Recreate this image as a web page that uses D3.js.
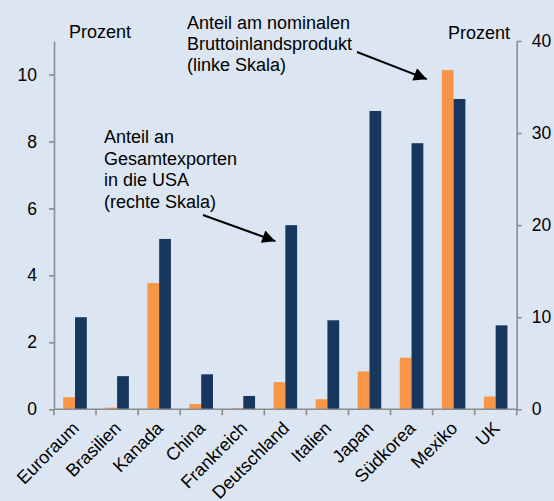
<!DOCTYPE html>
<html>
<head>
<meta charset="utf-8">
<script src="https://cdn.jsdelivr.net/npm/d3@7"></script>
<style>
  body { margin: 0; background: #dce6f2; }
  svg { display: block; }
  text { font-family: "Liberation Sans", Arial, sans-serif; fill: #000; }
</style>
</head>
<body>
<div id="chart"></div>
<script>
// Länder
const countries = ["Euroraum", "Brasilien", "Kanada", "China", "Frankreich", "Deutschland",
  "Italien", "Japan", "Südkorea", "Mexiko", "UK"];
// Anteil am nominalen BIP (linke Skala)
const gdpShare = [0.36, 0.05, 3.77, 0.16, 0.03, 0.81, 0.30, 1.13, 1.54, 10.13, 0.38];
// Anteil an Gesamtexporten in die USA (rechte Skala)
const exportShare = [10.0, 3.6, 18.5, 3.8, 1.45, 20.0, 9.67, 32.4, 28.9, 33.7, 9.12];
const leftTicks = [0, 2, 4, 6, 8, 10];
const rightTicks = [0, 10, 20, 30, 40];

const width = 554, height = 501;
const margin = { top: 41, right: 37.3, bottom: 91.7, left: 54 };
const innerW = width - margin.left - margin.right;
const innerH = height - margin.top - margin.bottom;

const orange = "#f79646", navy = "#17375e", axisColor = "#8c8c8c";
const fontSize = 18;

const svg = d3.select("#chart").append("svg")
  .attr("width", width).attr("height", height);

svg.append("rect").attr("width", width).attr("height", height).attr("fill", "#dce6f2");

const g = svg.append("g").attr("transform", `translate(${margin.left},${margin.top})`);

const x = d3.scaleBand().domain(countries).range([0, innerW]).paddingInner(0).paddingOuter(0);
const x1 = d3.scaleBand().domain(["gdp", "exp"]).range([x.bandwidth() * 0.22, x.bandwidth() * 0.78]);
const yL = d3.scaleLinear().domain([0, 11]).range([innerH, 0]);
const yR = d3.scaleLinear().domain([0, 40]).range([innerH, 0]);

// Balken
const groups = g.selectAll(".grp").data(countries).enter().append("g")
  .attr("transform", d => `translate(${x(d)},0)`);

groups.append("rect")
  .attr("x", x1("gdp")).attr("width", x1.bandwidth())
  .attr("y", (d, i) => yL(gdpShare[i]))
  .attr("height", (d, i) => innerH - yL(gdpShare[i]))
  .attr("fill", orange);

groups.append("rect")
  .attr("x", x1("exp")).attr("width", x1.bandwidth())
  .attr("y", (d, i) => yR(exportShare[i]))
  .attr("height", (d, i) => innerH - yR(exportShare[i]))
  .attr("fill", navy);

// Achsen
const styleAxis = sel => {
  sel.selectAll("path, line").attr("stroke", axisColor).attr("stroke-width", 1.6);
  sel.selectAll("text").attr("font-size", 17.5).attr("font-family", "Liberation Sans, Arial, sans-serif").attr("fill", "#000");
};

g.append("g")
  .call(d3.axisLeft(yL).tickValues(leftTicks).tickSize(5).tickSizeOuter(0).tickPadding(12))
  .call(styleAxis);

g.append("g")
  .attr("transform", `translate(${innerW},0)`)
  .call(d3.axisRight(yR).tickValues(rightTicks).tickSize(5).tickSizeOuter(0).tickPadding(10))
  .call(styleAxis);

// x-Achse mit Teilstrichen an den Kategoriegrenzen
const xAxis = g.append("g").attr("transform", `translate(0,${innerH})`);
xAxis.append("line").attr("x1", 0).attr("x2", innerW)
  .attr("stroke", axisColor).attr("stroke-width", 1.6);
xAxis.selectAll(".tk").data(countries.concat(["end"])).enter().append("line")
  .attr("x1", (d, i) => i * x.step()).attr("x2", (d, i) => i * x.step())
  .attr("y1", 0).attr("y2", 6)
  .attr("stroke", axisColor).attr("stroke-width", 1.6);

xAxis.selectAll(".lbl").data(countries).enter().append("text")
  .attr("transform", d => `translate(${x(d) + x.bandwidth() / 2 + 5},${20}) rotate(-45)`)
  .attr("text-anchor", "end")
  .attr("font-size", fontSize)
  .text(d => d);

// Achsenbeschriftungen
svg.append("text").attr("x", 69).attr("y", 38).attr("font-size", fontSize).text("Prozent");
svg.append("text").attr("x", 510).attr("y", 39).attr("text-anchor", "end").attr("font-size", fontSize).text("Prozent");

// Anmerkungen
const note1 = ["Anteil am nominalen", "Bruttoinlandsprodukt", "(linke Skala)"];
const note2 = ["Anteil an", "Gesamtexporten", "in die USA", "(rechte Skala)"];

svg.append("text").attr("font-size", fontSize)
  .selectAll("tspan").data(note1).enter().append("tspan")
  .attr("x", 187).attr("y", (d, i) => 28.5 + i * 21.3).text(d => d);

svg.append("text").attr("font-size", fontSize)
  .selectAll("tspan").data(note2).enter().append("tspan")
  .attr("x", 104).attr("y", (d, i) => 143 + i * 21.5).text(d => d);

svg.append("defs").append("marker")
  .attr("id", "arrow").attr("viewBox", "0 0 10 10")
  .attr("refX", 10).attr("refY", 5)
  .attr("markerWidth", 9).attr("markerHeight", 6.5)
  .attr("markerUnits", "strokeWidth")
  .attr("orient", "auto")
  .append("path").attr("d", "M0,0 L10,5 L0,10 Z").attr("fill", "#000");

const arrow = (x0, y0, x1p, y1p) => svg.append("line")
  .attr("x1", x0).attr("y1", y0).attr("x2", x1p).attr("y2", y1p)
  .attr("stroke", "#000").attr("stroke-width", 2)
  .attr("marker-end", "url(#arrow)");

// Pfeil zu Deutschland (Exporte)
arrow(203, 215,
  margin.left + x("Deutschland") + x1("exp") - 10,
  margin.top + yR(exportShare[5]) + 16);
// Pfeil zu Mexiko (BIP)
arrow(357, 52,
  margin.left + x("Mexiko") + x1("gdp") - 15,
  margin.top + yL(gdpShare[9]) + 9);
</script>
</body>
</html>
